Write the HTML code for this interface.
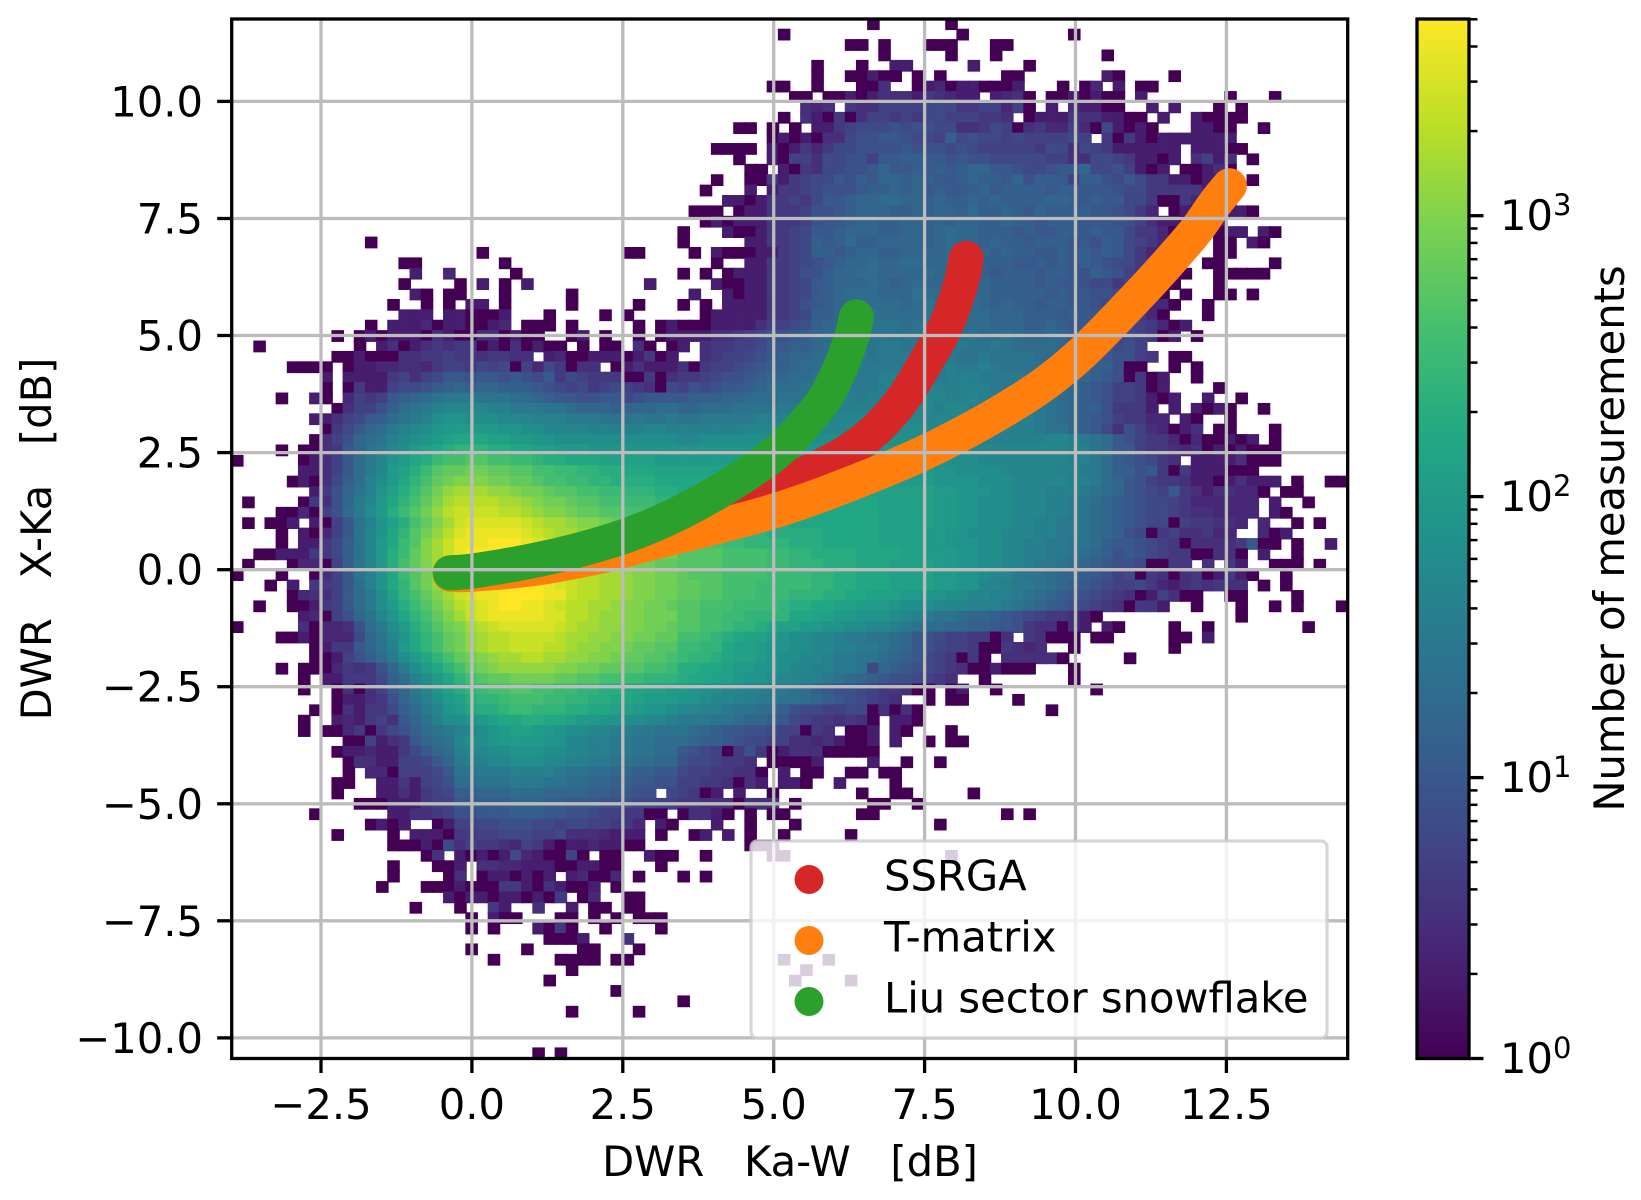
<!DOCTYPE html>
<html lang="en">
<head>
<meta charset="utf-8">
<title>DWR scatter density</title>
<style>
html,body{margin:0;padding:0;background:#fff;width:1641px;height:1200px;overflow:hidden}
svg{display:block}
text{font-family:"DejaVu Sans","Liberation Sans",sans-serif;fill:#000;white-space:pre}
</style>
</head>
<body>
<svg id="chart" xmlns="http://www.w3.org/2000/svg" width="1641" height="1200" viewBox="0 0 1641 1200">
  <defs>
    <clipPath id="axes-clip"><rect x="231.7" y="19" width="1116" height="1039.5"/></clipPath>
    <linearGradient id="viridis-gradient" x1="0" y1="1" x2="0" y2="0"></linearGradient>
  </defs>
  <rect x="0" y="0" width="1641" height="1200" fill="#fff"/>
  <g id="cells" clip-path="url(#axes-clip)"></g>
  <g id="curves" clip-path="url(#axes-clip)"></g>
  <g id="grid" clip-path="url(#axes-clip)"></g>
  <g id="ticks"></g>
  <g>
    <rect x="751" y="841" width="576" height="197" rx="6" ry="6" fill="#fff" fill-opacity="0.8" stroke="#ccc" stroke-opacity="0.8" stroke-width="3.3"/>
    <circle cx="809" cy="879.5" r="14.5" fill="#d62728"/>
    <circle cx="809" cy="940.5" r="14.5" fill="#ff7f0e"/>
    <circle cx="809" cy="1001.5" r="14.5" fill="#2ca02c"/>
    <text x="884" y="890.5" font-size="41.67">SSRGA</text>
    <text x="884" y="951.5" font-size="41.67">T-matrix</text>
    <text x="884" y="1012.5" font-size="41.67">Liu sector snowflake</text>
  </g>
  <rect x="231.7" y="19" width="1116" height="1039.5" fill="none" stroke="#000" stroke-width="3.3"/>
  <text x="790" y="1176" font-size="41.67" text-anchor="middle">DWR   Ka-W   [dB]</text>
  <text transform="translate(51,539) rotate(-90)" font-size="41.67" text-anchor="middle">DWR   X-Ka   [dB]</text>
  <rect x="1417" y="19" width="52" height="1039.5" fill="url(#viridis-gradient)"/>
  <rect x="1417" y="19" width="52" height="1039.5" fill="none" stroke="#000" stroke-width="3.3"/>
  <g id="cbar"></g>
  <text transform="translate(1624,538.5) rotate(-90)" font-size="41.67" text-anchor="middle">Number of measurements</text>
</svg>
<script>
// Each row is a top-to-bottom histogram row; each group is ten columns; "_" is ten empty bins.
// A character is log10(count)*10 in levelAlphabet; "." is an empty bin.
const levelAlphabet = "0123456789abcdefghijklmnopqrstuvwxyzAB";
const heatmapRows = [
"_ _ _ _ _ .......0.. ....0.....",
"_ _ _ _ .........0 _ .....0.... .....0....",
"_ _ _ _ _ .....00.0. ..000...00",
"_ _ _ _ _ ........0. ....0...0. ........0.",
"_ _ _ _ _ ..0...0..3 3.....3... .0........",
"_ _ _ _ _ ..0..00300 .0.0.....0 0.......30 ....0.....",
"_ _ _ _ ........00 ..0...005. .034033000 3...0.04.3 .00.......",
"_ _ _ _ _ 00.0030355 5365433.34 50.0030300 .3.......0 ...0......",
"_ _ _ _ _ .545.65577 7788866774 70.3.53300 ..3.3...0. 0.........",
"_ _ _ _ .........0 .530605776 7688777665 .033365533 00.3..3000 0.........",
"_ _ _ _ .....00.0. 0.33678889 8998855687 0564474083 030...3300 ..0.......",
"_ _ _ _ ........03 03055899aa 9887b89887 8777787.60 6303333333",
"_ _ _ _ ...0000.30 3646889999 a999898777 7768858763 33333.3330 0.........",
"_ _ _ _ .....0..30 77588997aa bbaa9a9988 8887755887 63303.5735 .0........",
"_ _ _ _ ......00.3 0658899aca abababccaa 9889aac889 7303.00350",
"_ _ _ _ ...0..0063 6788a9bacc bcbaabcbba c9bba7bb98 a866330335 .0........",
"_ _ _ _ ..0...3.36 678999abbc bcabaabcab bbbabbaaa9 886666636.",
"_ _ _ _ ....330366 768aabccdd ccbcbbcbcb bbbccbabaa 8860064466",
"_ _ _ _ .000.03366 6799abcccb bcbccbdbbc bacbbbbaa9 864.030333 30........",
"_ _ _ _ ..03033366 679aabccbb ccbcbccbbc bbabbbaaa9 975330033.",
"_ _ _ _ 0...300366 78aabcccbb ccbcdccbbb abaabbabaa 8664003.03 3.30......",
"_ ..0....... _ _ 0.....3366 78babdbbcc ccbcdccbcb babbbaa9ba 8764300.00 .30.......",
"_ _ ..0....... .....00... .0.3000336 78bbabccbb ccccdcbcbc bbaabababa 86440...00",
"_ .....00... ....0..... _ ...0..3366 789abccdcc ddccdccbbb aabababa98 86640..00. ...0......",
"_ ......3..4 .....0.... _ 0.0.033366 799bccddcc ccdcdcbbab bbabba9ba9 764400..00 000.......",
"_ .....0.... 0.3.0.3... .......3.. ...3003366 78abcccdcb cdcccddcbb bbabaa9886 86640...0.",
"_ ......30.0 0...0..... 0......... .3..303366 78abcdddcc ceddcdccbb bbbabaa998 7640.0..00 .0........",
"_ ....0..0.0 .33.0..... 0.....0... 0.0.333366 79abcddddd cdeddcdcbc bbabbaa987 66440..0..",
"_ .....333.3 30003...0. ...0.0.... ..03333366 78bbcddedd ddedccddcc cbbbabaa87 7640...0..",
"_ ..0.333403 30034.000. 0.....0.03 0003333577 89bcddeeee deeeddddcc cbbcbaa997 776403....",
".........0 .030333053 00550300.. 03.0..0.03 3335567899 abcddeeeee eeefeeedde dccdcbba98 87603.0...",
"..0....... .0.3503565 6603050300 .0.00.50.0 3.566778aa bbcddeeeff effeefeefe ddddcbbaa8 97........",
".........0 0300055667 6656655.34 0033303603 ..567789ab ccddeefeff fefffeefee eedddcbba9 976.00....",
".....0000. 0334455467 7687807486 055.035333 5067789abb cddeeeffff fgffgffgfe eeeddccbb9 00..0.0...",
"........3. 333367578a a9aa9a98a6 8766600605 667899abcc ddeeefffgg gggfgggfff feeedccba9 0603..0...",
"........0. 06337889ab cbccbbba98 7867876508 7989aabcdd deeeffffgg gghgggggff feeedcba97 7603....0.",
"....0..30. 4767abcdef ffeeeddcba a99aa89aaa abbbccddde eefffgfggg gghhgghggg ffeedcba97 76303..3.. 0.........",
".........0 5779bdefgh hhhggfffee dcccbcccdd ccdddeeeef ffgggggghh hhhghhgggg gffedcbb96 663.3.3030 ..0.......",
".......335 78abdefgij jiiihhhggg fffeeefeef eefffffggg gggghhhhhh hhhhhhghgg ggfedcba97 6644.30..0",
"........06 8acdfghijk kkkkjjiihh hhggggghhg gggggghhhh hhhhhhiiii iihhhhhhgg ggfeecba85 9754035.00 ...0......",
".......057 9cdeghijkl mmmllkkjji iiiiiiiiii hhiiiiiiii iiiiiiiiii iihhhhhggg ggghhgfeda 9766404003 03.0......",
"....0.0056 acefhiklmn ooonnmmllk kkjjjjjjjj jjjjjjjjjj jjjjjjjjjj jjiiihhhhh hhhhhggeda a766545030 3000......",
"0.....0357 adfhjkmnpq qrrqqpponn mmmlllllkk kkkkkkkkkk kkkkkkkkkk jjjjiiihhh hhhhhggfdb a9865.3333 5000......",
"......3357 adfhklnprs sttssrrqqp poonnmmmll llllllllll kkkkkkkkkk kkkjjiiiih hhhhggffdb b9a6063330 00........",
".....03058 bdgikmoqst uuuttssrqq ppoonnnnmm mmmmmmmmmm kkkkkkkkkk kkkjjjjiii hhhhhggfdc a976653303 5333.0..00",
".......369 cegjlnprtv wwwvvuttsr rqqppooonn mmmmmmmmmm llllllllll lllkkjjjii hhhgggfedc a987a65355 440.00....",
".0....0659 cfhkmoqsuw xxxxwwvutt srrqqpppoo mmmmmmmmmm mmmmmmmmll lllkkjjiii hhhggfedcb a988764444 44.3..0...",
"....004079 dfiknprtvx yyyyxxwvuu tssrrqqqpp nnnnnnnnnn mmmmmmmmll lllkkjjiii hhhggfedcb a988765544 44.30.....",
".0.003.307 aegjlnqsuw yzzzzzyxww vuutsssrrq ooonnnnnnn mmmmmmmmll lllkkjjiii hhggffedcb a988076655 4.4..0.0..",
"....0.3047 aehjmortvx zAAAAAzyxw wvvuttssrr ppppoooonn nnnmmmmmll llkkjjiiih hhggffedcb 9806755644 ..403.....",
"....0.3368 behkmpruwy AAABBBAzyx xwwvuuttts qqqqppoooo nnnmmmmmll llkkjjjiih hggffeedba a987605555 6a00.0..3.",
"..00333668 behknpsuwy ABBBBBBAzy yxwwvvuutt rrrrqqqqpp oonnnnmmmm llkkkjjiih hggffedcb9 a987660055 0.3..0....",
".0...04407 behknqsuwy AAAAzzyyxw wwvvuuttss rrrrqqqqpp ooonnnmmml lllkkjjiih hgffedcba9 980066.5.6 3..000.0..",
"0...0..057 aegjmprtvx yzzzzzzyxx yxxwwvuutt srrrqqqqpp ppoonnmmml lllkkjjihh feedccba97 8065056036 30..0.....",
"...0.3.667 adgjmortvx yzzAABBBAz yxxwwvuutt ssrrqqqppp ppoonnmmml lllkkjjhhg ffedcba987 7864356565 5.0.0.....",
".....04557 adfiloqsuw yzAABBBBAA yxxwwvuutt ssrrqqqppp ooonnmmlll kkjjiihhgg fedcba9876 5037500..0 0....0....",
"..0..00367 adfiknprtv xyzABBAAzy xxwwvuutts rrqqqppppo nnmmllkkkj iiihhhgggf edcba98765 0663..0... 0..0.0...0",
"......3407 9cehjmoqsu wyzAAAAAzz xxwvvuuttt rrqqppoooo mmllkkjjji hgfeedccba 98766530.. _ 0.........",
"0.....5044 59dfiknprt uwxyzzzzzy xwwvvuutts rrqqpoonml lkkjjiihhg feddccbbaa 9655053.30 ....0..0.. ......0...",
"....003044 48cehjmoqs tvwxxyyyyx wwvvuuttss qqponmllkj iihhgffeed ca98776605 .65000.00. ....00.3..",
".......036 6acegkmoqs tvwxxyyyxx wvvuutssrr ppoomllkjj iihhggffed ca98776006 545..0.... ....0.....",
".......003 79bdfikmoq stuvwwxxww vvuutssrrq poonmllkji ihhgffeedc ba876060.5 55550..... 0.........",
"....0.0004 6569cfikmo qstuvvvvvu uttssrrqqp nnmmlkkjji hhggffe8cb a987650030 00...0....",
"......0.33 6668bdgikm oqrsstttts srrqqppooo nmmllkjjih hggfedcba9 98765..0.. .....0....",
"......0..0 5057acfhjl nopqqrrqqp poonnmmllk kjiihhggff edba998766 500.03..0. .......0..",
".........0 33569cegik lnoopqqqpp oonnmmlkkk jjihhggffe edcba98765 ..0.00.... 0.........",
".......0.0 53668bdfhj kmnnoppooo nnmmllkjji hhggfeeddb 9887788050 50........ ...0......",
"......0..3 43675acegi ijklmmnnmm lkkjjiihhg fffeedccba 87665650.3 30........",
"......0.00 460689bdef ghijkllkkj iihhggffee edcbaa9987 7065.003.3 0...0.....",
"_ 007356acde hiijkkkkjj hhggffeedd dcbba98877 55453003.3 ..0.00....",
".........0 3343368acd ghhiijjjii hhggffeedd a987069603 55500000..",
"_ 05533778ac fgghhiiihh ggffeeddcc 9887665.00 003....3.. 0..0......",
"_ 0.4407778a eefffggggf eeddccbbaa 87766550.3 .00..00.00",
".........0 0..3363789 ddeeefffee ddccbbaa99 77665053.3 30..3....0",
".........0 ...3353678 bbcccdddcc ccbbaa99.8 7603.3..0. ......0..0 0.....0...",
"_ .000333677 aabbbcccbb aaa9998877 665550555. 0......00. .0........",
".......0.. ....335567 99aaabbbaa 998776600. 05530.0.00 ......00.. .........0 .0........",
"_ ..0303..03 7788999887 8877664.30 ...3..0... 0......... ...0......",
".........0 ....0.3330 6677888778 5554333.0. .03.3.0..0 .....0....",
"_ ....000308 5766547630 3343300... ......000.",
"_ .......05. 3030384300 70.00..300 ..0.....00 _ ....0.....",
"_ ....0...00 3.55443330 03300...0.",
"_ ....0....0 5.0330303. 34004.0... 0.0.......",
"_ ...0...000 3000663053 003.0.....",
"_ .........3 0330330306 .04..00...",
"_ ......0... 0..63..5.. 3.00.00...",
"_ _ .0.300...0 0.0.0.000.",
"_ _ .0.0...306 0..0....0.",
"_ _ ........00 03...5....",
"_ _ .0....0... .00...0...",
"_ _ ...0.....0 000.00.... .........0 ...0......",
"_ _ _ 0......... _ .0........",
"_ _ ........0. _ _ 0....0....",
"_ _ _ ....0.....",
"_ _ _ _ 0.........",
"_ _ _ 0.....0...",
"",
"",
"",
"_ _ .......0.0"
];
const ssrgaX   = [-0.36,0,1,2,3,4,5,5.6,6.2,6.7,7.15,7.55,7.85,8.1,8.19];
const ssrgaY   = [-0.07,-0.05,0.12,0.38,0.78,1.25,1.75,2.1,2.5,3,3.66,4.5,5.2,6.1,6.65];
const tmatrixX = [-0.36,0,1,2,2.5,3,4,5,6,7.5,9,10,11,11.5,12,12.3,12.55];
const tmatrixY = [-0.1,-0.1,0.02,0.25,0.41,0.58,0.9,1.25,1.7,2.5,3.55,4.5,5.8,6.5,7.25,7.8,8.2];
const liuX     = [-0.36,0,0.5,1,1.5,2,2.5,3,3.5,4,4.5,5,5.4,5.82,6.1,6.3,6.37];
const liuY     = [-0.07,-0.03,0.07,0.19,0.33,0.5,0.7,0.95,1.25,1.6,2,2.45,2.95,3.6,4.3,5,5.4];
const xTicks = [-2.5,0,2.5,5,7.5,10,12.5];
const yTicks = [-10,-7.5,-5,-2.5,0,2.5,5,7.5,10];
const xTickLabels = ["\u22122.5","0.0","2.5","5.0","7.5","10.0","12.5"];
const yTickLabels = ["\u221210.0","\u22127.5","\u22125.0","\u22122.5","0.0","2.5","5.0","7.5","10.0"];
const cbarDecades = [0,1,2,3];
const cbarMinorMultipliers = [2,3,4,5,6,7,8,9];

const NS = "http://www.w3.org/2000/svg";
const xMin = -3.98, xMax = 14.51, yMin = -10.44, yMax = 11.76, cbarMaxLog = 3.7;
const plotL = 231.7, plotR = 1347.7, plotT = 19, plotB = 1058.5;
const nBins = 100;
function xScale(v){ return plotL + (v - xMin) / (xMax - xMin) * (plotR - plotL); }
function yScale(v){ return plotB - (v - yMin) / (yMax - yMin) * (plotB - plotT); }
function cbarScale(logV){ return plotB - logV / cbarMaxLog * (plotB - plotT); }
const viridisStops = ["#440154","#482475","#414487","#35608d","#2a788e","#21918c","#22a884","#44bf70","#7ad151","#bddf26","#fde725"];
function hexRgb(h){ return [1,3,5].map(function(i){ return parseInt(h.substr(i,2),16); }); }
function viridis(t){
  t = Math.max(0, Math.min(1, t)) * (viridisStops.length - 1);
  const i = Math.min(Math.floor(t), viridisStops.length - 2), f = t - i;
  const a = hexRgb(viridisStops[i]), b = hexRgb(viridisStops[i + 1]);
  return "rgb(" + a.map(function(v, k){ return Math.round(v + (b[k] - v) * f); }).join(",") + ")";
}
function make(tag, parent){
  const el = document.createElementNS(NS, tag);
  parent.appendChild(el);
  return el;
}
const gradient = document.getElementById("viridis-gradient");
viridisStops.forEach(function(c, i){
  const stop = document.createElementNS(NS, "stop");
  stop.setAttribute("offset", (i / (viridisStops.length - 1)).toFixed(2));
  stop.setAttribute("stop-color", c);
  gradient.appendChild(stop);
});

const cellsLayer = document.getElementById("cells");
const binW = (plotR - plotL) / nBins, binH = (plotB - plotT) / nBins;
heatmapRows.forEach(function(row, r){
  const text = row.split(" ").map(function(g){
    return g === "_" ? ".........." : g.padEnd(10, ".").slice(0, 10);
  }).join("");
  for (let c = 0; c < text.length && c < nBins; c++) {
    const level = levelAlphabet.indexOf(text[c]);
    if (level < 0) continue;
    const cell = make("rect", cellsLayer);
    
    
    const color = viridis(level / 10 / cbarMaxLog);
    cell.setAttribute("x", (plotL + c * binW).toFixed(2));
    cell.setAttribute("y", (plotT + r * binH).toFixed(2));
    cell.setAttribute("width", binW.toFixed(2));
    cell.setAttribute("height", binH.toFixed(2));
    cell.setAttribute("fill", color);
    cell.setAttribute("stroke", color);
    cell.setAttribute("stroke-width", "1.4");
  }
});

const curvesLayer = document.getElementById("curves");
function smoothPath(px, py){
  let d = "M" + px[0].toFixed(1) + " " + py[0].toFixed(1);
  for (let i = 0; i < px.length - 1; i++) {
    const a = Math.max(i - 1, 0), b = Math.min(i + 2, px.length - 1);
    const c1x = px[i] + (px[i + 1] - px[a]) / 6, c1y = py[i] + (py[i + 1] - py[a]) / 6;
    const c2x = px[i + 1] - (px[b] - px[i]) / 6, c2y = py[i + 1] - (py[b] - py[i]) / 6;
    d += "C" + c1x.toFixed(1) + " " + c1y.toFixed(1) + " " + c2x.toFixed(1) + " " + c2y.toFixed(1) + " " + px[i + 1].toFixed(1) + " " + py[i + 1].toFixed(1);
  }
  return d;
}
function drawCurve(xs, ys, color, name){
  const line = make("path", curvesLayer);
  
  
  line.setAttribute("d", smoothPath(xs.map(xScale), ys.map(yScale)));
  line.setAttribute("fill", "none");
  line.setAttribute("stroke", color);
  line.setAttribute("stroke-width", "35");
  line.setAttribute("stroke-linecap", "round");
  line.setAttribute("stroke-linejoin", "round");
}
drawCurve(ssrgaX, ssrgaY, "#d62728", "ssrga-curve");
drawCurve(tmatrixX, tmatrixY, "#ff7f0e", "t-matrix-curve");
drawCurve(liuX, liuY, "#2ca02c", "liu-snowflake-curve");

const gridLayer = document.getElementById("grid");
const ticksLayer = document.getElementById("ticks");
function styleLine(el, x1, y1, x2, y2, color){
  el.setAttribute("x1", x1); el.setAttribute("y1", y1);
  el.setAttribute("x2", x2); el.setAttribute("y2", y2);
  el.setAttribute("stroke", color); el.setAttribute("stroke-width", "3.3");
}
xTicks.forEach(function(v, i){
  const px = xScale(v).toFixed(1);
  const g = make("line", gridLayer);
  
  
  styleLine(g, px, plotT, px, plotB, "#bcbcbc");
  const t = make("line", ticksLayer);
  
  
  styleLine(t, px, plotB, px, plotB + 14.5, "#000");
  const label = make("text", ticksLayer);
  
  
  label.setAttribute("x", px);
  label.setAttribute("y", "1119");
  label.setAttribute("font-size", "41.67");
  label.setAttribute("text-anchor", "middle");
  label.textContent = xTickLabels[i];
});
yTicks.forEach(function(v, i){
  const py = yScale(v).toFixed(1);
  const g = make("line", gridLayer);
  
  
  styleLine(g, plotL, py, plotR, py, "#bcbcbc");
  const t = make("line", ticksLayer);
  
  
  styleLine(t, plotL - 14.5, py, plotL, py, "#000");
  const label = make("text", ticksLayer);
  
  
  label.setAttribute("x", "203");
  label.setAttribute("y", (yScale(v) + 15).toFixed(1));
  label.setAttribute("font-size", "41.67");
  label.setAttribute("text-anchor", "end");
  label.textContent = yTickLabels[i];
});

const cbarLayer = document.getElementById("cbar");
cbarDecades.forEach(function(d){
  const py = cbarScale(d);
  const t = make("line", cbarLayer);
  
  
  styleLine(t, 1469, py.toFixed(1), 1483.5, py.toFixed(1), "#000");
  const label = make("text", cbarLayer);
  
  
  label.setAttribute("x", "1500");
  label.setAttribute("y", (py + 14.5).toFixed(1));
  label.setAttribute("font-size", "41.67");
  label.textContent = "10";
  const sup = make("tspan", label);
  
  
  sup.setAttribute("dy", "-15");
  sup.setAttribute("font-size", "29");
  sup.textContent = String(d);
  cbarMinorMultipliers.forEach(function(m){
    const lg = d + Math.log10(m);
    if (lg > cbarMaxLog + 0.001) return;
    const minor = make("line", cbarLayer);
    
    
    styleLine(minor, 1469, cbarScale(lg).toFixed(1), 1477.5, cbarScale(lg).toFixed(1), "#000");
    minor.setAttribute("stroke-width", "2.5");
  });
});
</script>
</body>
</html>
